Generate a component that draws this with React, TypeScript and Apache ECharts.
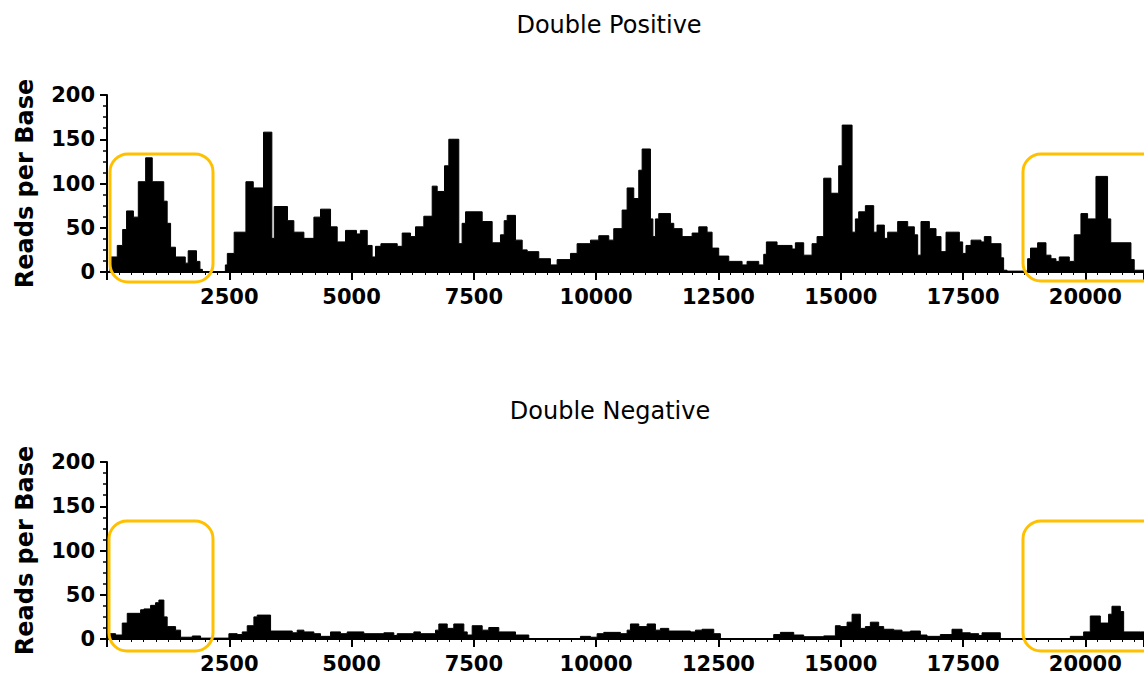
import React, { useEffect, useRef } from "react";
import * as echarts from "echarts";

// Double Positive: plateau start positions (bp) and reads per base
const dpPos = [
  0, 60, 210, 320, 400, 540, 640, 790, 925, 1160, 1230, 1300, 1400, 1600, 1660, 1830, 1900, 1950,
  2420, 2460, 2600, 2840, 2990, 3200, 3370, 3420, 3690, 3820, 4025, 4230, 4365, 4570, 4706, 4876,
  5100, 5180, 5320, 5420, 5489, 5600, 5933, 6035, 6205, 6307, 6477, 6648, 6750, 6900, 6988, 7192,
  7260, 7330, 7670, 7874, 8044, 8120, 8181, 8351, 8488, 8590, 8827, 9066, 9202, 9475, 9611, 9884,
  10054, 10258, 10360, 10531, 10633, 10769, 10871, 10940, 11110, 11160, 11212, 11280, 11519, 11587,
  11757, 11962, 12098, 12268, 12370, 12506, 12711, 12983, 13085, 13324, 13426, 13480, 13698, 14005,
  14073, 14243, 14414, 14516, 14652, 14800, 14958, 15030, 15232, 15300, 15367, 15504, 15674, 15742,
  15892, 15960, 16164, 16369, 16505, 16573, 16641, 16812, 16948, 17050, 17153, 17425, 17493, 17561,
  17664, 17868, 17936, 18072, 18276, 18330, 18400, 18821, 18880, 19025, 19196, 19298, 19400, 19468,
  19673, 19775, 19911, 20047, 20218, 20455, 20520, 20933, 21000, 21200,
];
const dpVal = [
  0, 17, 30, 48, 69, 62, 102, 129, 102, 80, 55, 28, 17, 10, 24, 12, 3, 0,
  8, 21, 45, 102, 95, 158, 38, 74, 58, 45, 38, 62, 71, 51, 34, 47,
  43, 47, 30, 17, 29, 32, 29, 44, 40, 51, 63, 97, 91, 120, 150, 32,
  55, 68, 57, 33, 42, 58, 64, 36, 25, 23, 15, 8, 14, 21, 32, 36,
  41, 36, 49, 70, 95, 83, 115, 139, 60, 40, 60, 66, 55, 49,
  40, 44, 51, 45, 27, 18, 12, 8, 12, 8, 20, 34, 30, 26,
  33, 19, 32, 40, 106, 89, 120, 166, 45, 60, 68, 75, 45, 53,
  38, 45, 57, 51, 42, 19, 57, 49, 40, 23, 45, 34, 21, 30,
  36, 34, 40, 32, 16, 2, 1, 15, 27, 33, 19, 15, 12, 17,
  12, 42, 66, 60, 108, 60, 33, 14, 2, 2,
];

// Double Negative: plateau start positions (bp) and reads per base
const dnPos = [
  0, 176, 312, 414, 687, 755, 891, 993, 1061, 1163, 1230, 1402, 1504, 1743, 1913,
  2492, 2662, 2765, 2867, 3003, 3071, 3344, 3787, 3889, 4025, 4229, 4365, 4570, 4774, 4911,
  5250, 5660, 5864, 5933, 6273, 6409, 6716, 6784, 6955, 7090, 7295, 7364, 7466, 7670, 7805,
  8010, 8351, 8623, 9679, 9884, 10020, 10156, 10497, 10633, 10701, 10871, 11042, 11212, 11314,
  11484, 11927, 12030, 12166, 12404, 12540, 13630, 13767, 14039, 14243, 14652, 14891, 14993,
  15130, 15232, 15402, 15504, 15606, 15776, 15878, 16083, 16253, 16423, 16628, 16764, 17037,
  17275, 17480, 17650, 17820, 17889, 18263, 19694, 19966, 20102, 20307, 20476, 20545, 20716,
  20784, 21124, 21200,
];
const dnVal = [
  6, 4.5, 18, 29, 33, 34, 38, 41, 44, 25, 14, 10, 2, 3.4, 1,
  6, 5, 8, 15, 25, 27, 9, 7, 10, 8, 6, 3, 8, 6, 8,
  6, 7, 4, 6, 8, 6, 10, 17, 12, 17, 8, 4.5, 15, 10, 13,
  8, 4.5, 0.5, 3, 2, 6, 7.5, 6, 10, 17, 14, 17, 10, 12,
  9, 8, 10, 11, 6, 0.5, 5, 7.5, 4.5, 2.6, 3.5, 15, 14,
  19, 28, 12, 14, 19, 14, 11, 10, 8, 9, 4.5, 3, 5,
  11, 7, 6, 4, 7, 0.5, 3, 8, 26, 18, 28, 37, 31,
  8, 8, 8,
];

const titles = ["Double Positive", "Double Negative"];
const yName = "Reads per Base";

const FONT = "DejaVu Sans";

export default function App() {
  const ref = useRef<HTMLDivElement>(null);
  useEffect(() => {
    if (!ref.current) return;
    const chart = echarts.init(ref.current, undefined, { renderer: "svg" });
    const grids = [
      { left: 107, top: 95, height: 177, right: 0 },
      { left: 107, top: 462, height: 177, right: 0 },
    ];
    const mkX = (i: number) => ({
      type: "value",
      gridIndex: i,
      min: 0,
      max: 21200,
      interval: 2500,
      splitLine: { show: false },
      axisLine: { show: true, lineStyle: { color: "#000", width: 2 } },
      axisTick: { show: true, length: 8, lineStyle: { color: "#000", width: 2 } },
      minorTick: { show: true, splitNumber: 10, length: 3, lineStyle: { color: "#000", width: 1 } },
      axisLabel: {
        showMinLabel: false,
        showMaxLabel: false,
        margin: 14,
        color: "#000",
        fontFamily: FONT,
        fontWeight: "bold",
        fontSize: 21,
        formatter: (v: number) => String(v),
      },
    });
    const mkY = (i: number) => ({
      type: "value",
      gridIndex: i,
      min: 0,
      max: 200,
      interval: 50,
      name: yName,
      nameLocation: "middle",
      nameGap: 70,
      nameTextStyle: { color: "#000", fontFamily: FONT, fontWeight: "bold", fontSize: 24 },
      splitLine: { show: false },
      axisLine: { show: true, lineStyle: { color: "#000", width: 2 } },
      axisTick: { show: true, length: 7, lineStyle: { color: "#000", width: 2 } },
      minorTick: { show: true, splitNumber: 4, length: 4, lineStyle: { color: "#000", width: 1.5 } },
      axisLabel: {
        margin: 12,
        color: "#000",
        fontFamily: FONT,
        fontWeight: "bold",
        fontSize: 21,
      },
    });
    const mkSeries = (i: number, pos: number[], val: number[]) => ({
      type: "line",
      xAxisIndex: i,
      yAxisIndex: i,
      step: "end",
      symbol: "none",
      data: pos.map((p, k) => [p, val[k]]),
      lineStyle: { color: "#000", width: 1 },
      areaStyle: { color: "#000", opacity: 1 },
      silent: true,
    });
    const box = (x: number, y: number, w: number, h: number) => ({
      type: "rect",
      shape: { x, y, width: w, height: h, r: 18 },
      style: { fill: "none", stroke: "#FFC000", lineWidth: 3 },
      z: 100,
    });
    chart.setOption({
      animation: false,
      backgroundColor: "#fff",
      grid: grids,
      xAxis: [mkX(0), mkX(1)],
      yAxis: [mkY(0), mkY(1)],
      series: [mkSeries(0, dpPos, dpVal), mkSeries(1, dnPos, dnVal)],
      graphic: [
        {
          type: "text",
          x: 609,
          y: 25,
          style: { text: titles[0], textAlign: "center", textVerticalAlign: "middle", fontFamily: FONT, fontSize: 24, fill: "#000" },
        },
        {
          type: "text",
          x: 610,
          y: 411,
          style: { text: titles[1], textAlign: "center", textVerticalAlign: "middle", fontFamily: FONT, fontSize: 24, fill: "#000" },
        },
        box(110, 154, 103, 128),
        box(1023, 154, 140, 127),
        box(109, 521, 104, 130),
        box(1023, 521, 140, 130),
      ],
    });
    return () => chart.dispose();
  }, []);
  return <div ref={ref} style={{ position: "fixed", left: 0, top: 0, width: 1144, height: 682 }} />;
}
